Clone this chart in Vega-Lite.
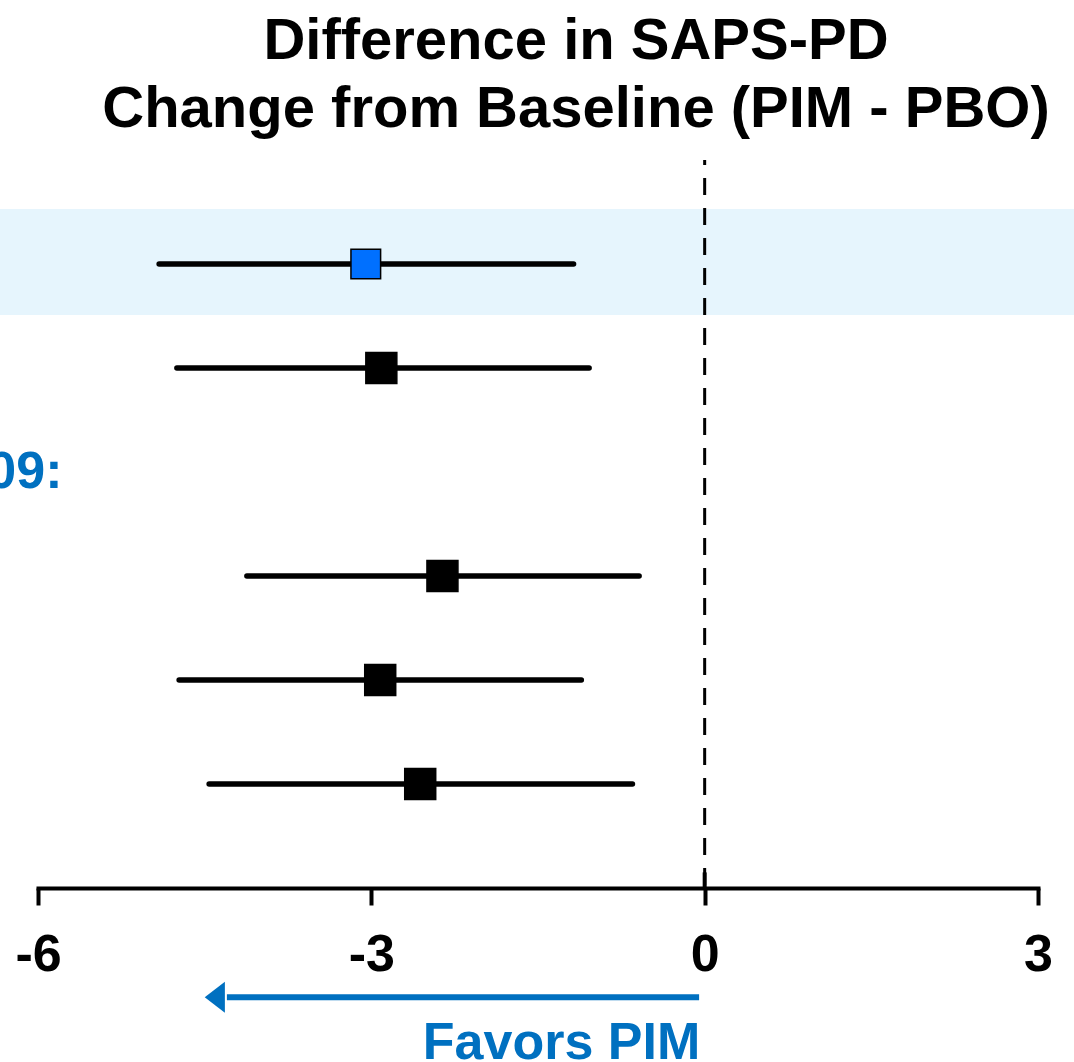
{
  "$schema": "https://vega.github.io/schema/vega-lite/v6.json",
  "autosize": "none",
  "width": 1000,
  "height": 728,
  "padding": {"left": 38, "right": 36, "top": 160, "bottom": 174},
  "background": "white",
  "title": {
    "text": ["Difference in SAPS-PD", "Change from Baseline (PIM - PBO)"],
    "font": "Liberation Sans",
    "fontSize": 58,
    "fontWeight": "bold",
    "lineHeight": 68,
    "color": "black",
    "anchor": "middle",
    "offset": 20,
    "dx": 38
  },
  "config": {"view": {"stroke": null}},
  "datasets": {
    "rows": [
      {"row": 1, "est": -3.05, "lo": -4.91, "hi": -1.18, "kind": "pooled"},
      {"row": 2, "est": -2.91, "lo": -4.75, "hi": -1.04, "kind": "study"},
      {"row": 4, "est": -2.36, "lo": -4.12, "hi": -0.59, "kind": "study"},
      {"row": 5, "est": -2.92, "lo": -4.73, "hi": -1.11, "kind": "study"},
      {"row": 6, "est": -2.56, "lo": -4.46, "hi": -0.65, "kind": "study"}
    ],
    "band": [{"x": -6.342, "x2": 3.324, "y": 0.47, "y2": 1.49}],
    "ref": [{"x": 0, "y": 0, "y2": 7}],
    "reftick": [{"x": 0, "y": 6.85, "y2": 7}],
    "arrow": [{"x": -4.3, "x2": -0.05, "y": 8.05}],
    "arrowhead": [{"x": -4.36, "y": 8.05}],
    "favors": [{"x": -0.04, "y": 8.645, "label": "Favors PIM"}],
    "group": [{"x": -5.78, "y": 3, "label": "09:"}]
  },
  "layer": [
    {
      "data": {"name": "band"},
      "mark": {"type": "rect", "color": "#E6F5FD", "clip": false},
      "encoding": {
        "x": {"field": "x", "type": "quantitative", "scale": {"domain": [-6, 3], "nice": false, "zero": false},
          "axis": {"values": [-6, -3, 0, 3], "labelExpr": "toString(datum.value)", "title": null, "grid": false, "domainColor": "black", "domainWidth": 4,
            "tickColor": "black", "tickWidth": 4, "tickSize": 17, "labelFont": "Liberation Sans", "labelFontSize": 52,
            "labelFontWeight": "bold", "labelColor": "black", "labelPadding": 24, "labelFlush": false, "domainCap": "square"}},
        "x2": {"field": "x2"},
        "y": {"field": "y", "type": "quantitative", "scale": {"domain": [0, 7], "reverse": true, "nice": false, "zero": false}, "axis": null},
        "y2": {"field": "y2"}
      }
    },
    {
      "data": {"name": "ref"},
      "mark": {"type": "rule", "color": "black", "strokeWidth": 3, "strokeDash": [17, 13], "strokeDashOffset": 12},
      "encoding": {
        "x": {"field": "x", "type": "quantitative"},
        "y": {"field": "y", "type": "quantitative"},
        "y2": {"field": "y2"}
      }
    },
    {
      "data": {"name": "reftick"},
      "mark": {"type": "rule", "color": "black", "strokeWidth": 4},
      "encoding": {
        "x": {"field": "x", "type": "quantitative"},
        "y": {"field": "y", "type": "quantitative"},
        "y2": {"field": "y2"}
      }
    },
    {
      "data": {"name": "rows"},
      "mark": {"type": "rule", "color": "black", "strokeWidth": 5.5, "strokeCap": "round"},
      "encoding": {
        "x": {"field": "lo", "type": "quantitative"},
        "x2": {"field": "hi"},
        "y": {"field": "row", "type": "quantitative"}
      }
    },
    {
      "data": {"name": "rows"},
      "mark": {"type": "point", "shape": "square", "filled": true, "stroke": "black", "strokeWidth": 1.5, "opacity": 1},
      "encoding": {
        "x": {"field": "est", "type": "quantitative"},
        "y": {"field": "row", "type": "quantitative"},
        "size": {"field": "kind", "type": "nominal", "scale": {"domain": ["pooled", "study"], "range": [880, 960]}, "legend": null},
        "fill": {"field": "kind", "type": "nominal", "scale": {"domain": ["pooled", "study"], "range": ["#0070FF", "black"]}, "legend": null}
      }
    },
    {
      "data": {"name": "arrow"},
      "mark": {"type": "rule", "color": "#0070C0", "strokeWidth": 6, "clip": false},
      "encoding": {
        "x": {"field": "x", "type": "quantitative"},
        "x2": {"field": "x2"},
        "y": {"field": "y", "type": "quantitative"}
      }
    },
    {
      "data": {"name": "arrowhead"},
      "mark": {"type": "point", "shape": "M -1 0 L 0.3 -1 L 0.3 1 Z", "filled": true, "color": "#0070C0", "size": 961, "opacity": 1, "clip": false},
      "encoding": {
        "x": {"field": "x", "type": "quantitative"},
        "y": {"field": "y", "type": "quantitative"}
      }
    },
    {
      "data": {"name": "favors"},
      "mark": {"type": "text", "font": "Liberation Sans", "fontSize": 52, "fontWeight": "bold", "color": "#0070C0", "align": "right", "baseline": "alphabetic", "clip": false},
      "encoding": {
        "x": {"field": "x", "type": "quantitative"},
        "y": {"field": "y", "type": "quantitative"},
        "text": {"field": "label"}
      }
    },
    {
      "data": {"name": "group"},
      "mark": {"type": "text", "font": "Liberation Sans", "fontSize": 52, "fontWeight": "bold", "color": "#0070C0", "align": "right", "baseline": "middle"},
      "encoding": {
        "x": {"field": "x", "type": "quantitative"},
        "y": {"field": "y", "type": "quantitative"},
        "text": {"field": "label"}
      }
    }
  ]
}
